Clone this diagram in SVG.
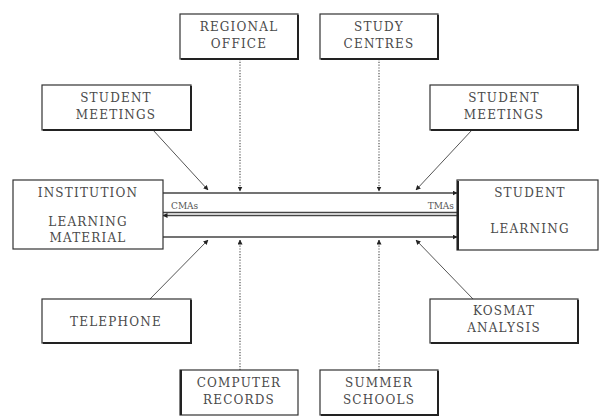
<svg xmlns="http://www.w3.org/2000/svg" width="600" height="417" viewBox="0 0 600 417">
<defs>
<marker id="ah" viewBox="0 0 10 10" refX="9" refY="5" markerWidth="5" markerHeight="5" orient="auto" markerUnits="userSpaceOnUse">
<path d="M0,0 L10,5 L0,10 z" fill="#222"/>
</marker>
</defs>
<style>
.box{fill:#fff;stroke:#333;stroke-width:1.2}
.sh{fill:none;stroke:#222;stroke-width:2}
.t{font-family:"DejaVu Serif","Liberation Serif",serif;font-size:12px;fill:#4a4a4a;text-anchor:middle;letter-spacing:1.2px}
.s{font-family:"DejaVu Serif","Liberation Serif",serif;font-size:9px;fill:#555}
.dot{stroke:#555;stroke-width:1.2;stroke-dasharray:1.2,1.6;fill:none}
.dg{stroke:#555;stroke-width:1;fill:none}
.ln{stroke:#444;stroke-width:1.3;fill:none}
</style>
<rect width="600" height="417" fill="#fff"/>
<g id="connectors">
<line class="ln" x1="163" y1="193" x2="457" y2="193" marker-end="url(#ah)"/>
<line class="ln" x1="457" y1="215.5" x2="163" y2="215.5" marker-end="url(#ah)"/>
<line class="ln" x1="163" y1="212.5" x2="457" y2="212.5" stroke-width="0.8"/>
<line class="ln" x1="163" y1="237" x2="457" y2="237" marker-end="url(#ah)"/>
<line class="dot" x1="240" y1="59" x2="240" y2="191" marker-end="url(#ah)"/>
<line class="dot" x1="379" y1="59" x2="379" y2="191" marker-end="url(#ah)"/>
<line class="dot" x1="240" y1="370" x2="240" y2="240" marker-end="url(#ah)"/>
<line class="dot" x1="379" y1="370" x2="379" y2="240" marker-end="url(#ah)"/>
<line class="dg" x1="153" y1="130" x2="208" y2="190" marker-end="url(#ah)"/>
<line class="dg" x1="472" y1="130" x2="416" y2="190" marker-end="url(#ah)"/>
<line class="dg" x1="150" y1="299" x2="208" y2="240" marker-end="url(#ah)"/>
<line class="dg" x1="473" y1="299" x2="416" y2="240" marker-end="url(#ah)"/>
<text class="s" x="171" y="209">CMAs</text>
<text class="s" x="454" y="209" text-anchor="end">TMAs</text>
</g>
<g id="regional-office">
<rect class="box" x="180" y="14" width="118" height="45"/>
<path class="sh" d="M181,59 H298 V15"/>
<text class="t" x="239" y="31">REGIONAL</text>
<text class="t" x="239" y="48">OFFICE</text>
</g>
<g id="study-centres">
<rect class="box" x="320" y="14" width="118" height="45"/>
<path class="sh" d="M321,59 H438 V15"/>
<text class="t" x="379" y="31">STUDY</text>
<text class="t" x="379" y="48">CENTRES</text>
</g>
<g id="student-meetings-left">
<rect class="box" x="42" y="85" width="149" height="45"/>
<path class="sh" d="M43,130 H191 V86"/>
<text class="t" x="116" y="102">STUDENT</text>
<text class="t" x="116" y="119">MEETINGS</text>
</g>
<g id="student-meetings-right">
<rect class="box" x="430" y="85" width="148" height="45"/>
<path class="sh" d="M431,130 H578 V86"/>
<text class="t" x="504" y="102">STUDENT</text>
<text class="t" x="504" y="119">MEETINGS</text>
</g>
<g id="institution">
<rect class="box" x="13" y="180" width="150" height="69"/>
<text class="t" x="88" y="197">INSTITUTION</text>
<text class="t" x="88" y="226">LEARNING</text>
<text class="t" x="88" y="242">MATERIAL</text>
</g>
<g id="student-learning">
<rect class="box" x="457" y="180" width="141" height="70"/>
<path class="sh" d="M458,181 V250"/>
<text class="t" x="530" y="197">STUDENT</text>
<text class="t" x="530" y="233">LEARNING</text>
</g>
<g id="telephone">
<rect class="box" x="42" y="299" width="149" height="44"/>
<path class="sh" d="M43,343 H191 V300"/>
<text class="t" x="116" y="326">TELEPHONE</text>
</g>
<g id="kosmat-analysis">
<rect class="box" x="430" y="299" width="148" height="44"/>
<path class="sh" d="M431,343 H578 V300"/>
<text class="t" x="504" y="315">KOSMAT</text>
<text class="t" x="504" y="332">ANALYSIS</text>
</g>
<g id="computer-records">
<rect class="box" x="180" y="370" width="118" height="45"/>
<path class="sh" d="M181,370 V415"/>
<text class="t" x="239" y="387">COMPUTER</text>
<text class="t" x="239" y="404">RECORDS</text>
</g>
<g id="summer-schools">
<rect class="box" x="320" y="370" width="118" height="45"/>
<path class="sh" d="M321,415 H438 V371"/>
<text class="t" x="379" y="387">SUMMER</text>
<text class="t" x="379" y="404">SCHOOLS</text>
</g>
</svg>
